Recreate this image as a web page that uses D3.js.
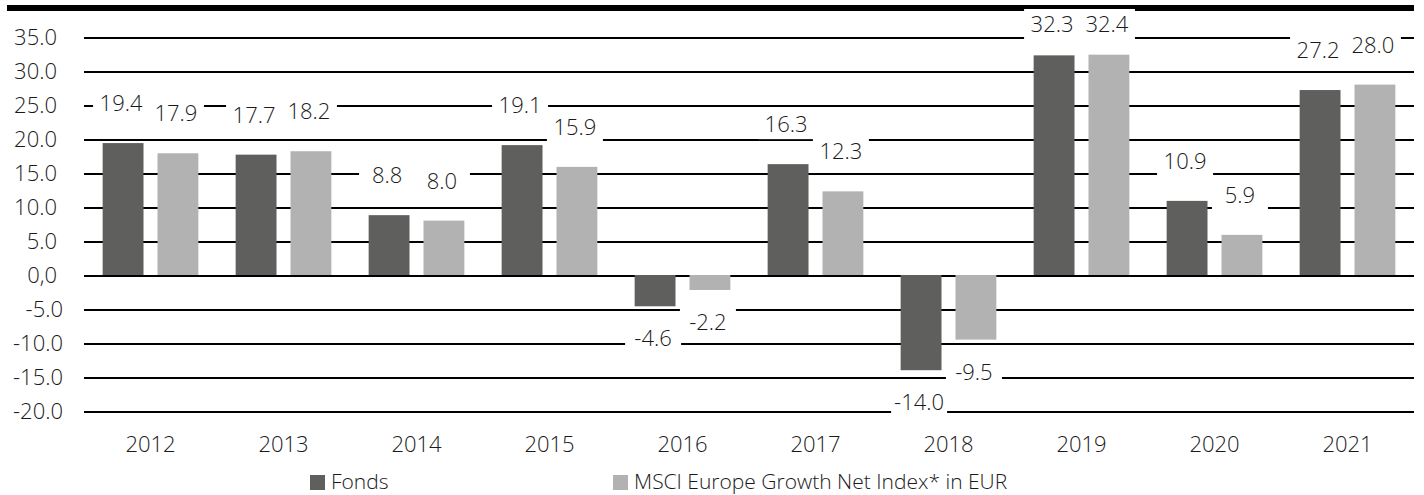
<!DOCTYPE html>
<html>
<head>
<meta charset="utf-8">
<title>Fonds vs MSCI Europe Growth</title>
<style>
body { margin: 0; background: #fff; }
svg { display: block; font-family: "Open Sans", sans-serif; font-weight: 300; }
.axis .domain { display: none; }
.axis line { stroke: #000; stroke-width: 2; shape-rendering: crispEdges; }
.axis text { font-family: "Open Sans", sans-serif; font-weight: 300; font-size: 22px; fill: #1a1a1a; }
</style>
</head>
<body>
<svg width="1424" height="495"></svg>
<script src="https://cdn.jsdelivr.net/npm/d3@7/dist/d3.min.js"></script>
<script>

var years = ["2012", "2013", "2014", "2015", "2016", "2017", "2018", "2019", "2020", "2021"];
var fonds = [19.4, 17.7, 8.8, 19.1, -4.6, 16.3, -14.0, 32.3, 10.9, 27.2];
var msci  = [17.9, 18.2, 8.0, 15.9, -2.2, 12.3, -9.5, 32.4, 5.9, 28.0];
var yTicks = [35, 30, 25, 20, 15, 10, 5, 0, -5, -10, -15, -20];
var yTickLabels = ["35.0", "30.0", "25.0", "20.0", "15.0", "10.0", "5.0", "0,0", "-5.0", "-10.0", "-15.0", "-20.0"];
var seriesNames = ["Fonds", "MSCI Europe Growth Net Index* in EUR"];
var colors = ["#5f5f5e", "#b2b2b2"];

var svg = d3.select("svg"),
    left = 84, right = 1414;

// thick rule on top
svg.append("rect")
    .attr("x", 7).attr("y", 5)
    .attr("width", right - 7).attr("height", 6)
    .attr("fill", "#000");

var x = d3.scaleBand().domain(years).range([left, right]);
var x1 = d3.scaleBand().domain([0, 1]).range([0, x.bandwidth()])
    .paddingInner(0.255).paddingOuter(0.34);
var y = d3.scaleLinear().domain([-20, 35]).range([411, 37]);

// y axis + gridlines
var yAxis = svg.append("g")
    .attr("class", "axis")
    .attr("transform", "translate(" + left + ",0)")
    .call(d3.axisLeft(y)
      .tickValues(yTicks)
      .tickSize(-(right - left))
      .tickPadding(27)
      .tickFormat(function(d, i) { return yTickLabels[i]; }))
    .attr("font-family", null)
    .attr("font-size", null);
yAxis.selectAll(".tick text")
    .attr("x", function(d) { return d < 0 ? -21 : -27; })
    .attr("dy", "0.34em");

// x labels
svg.append("g")
  .selectAll("text")
  .data(years)
  .enter().append("text")
    .attr("x", function(d) { return x(d) + x.bandwidth() / 2; })
    .attr("y", 444)
    .attr("dy", "0.36em")
    .attr("text-anchor", "middle")
    .attr("font-size", 22)
    .attr("fill", "#1a1a1a")
    .text(function(d) { return d; });

var rows = [];
years.forEach(function(yr, i) {
  rows.push({year: yr, s: 0, v: fonds[i]});
  rows.push({year: yr, s: 1, v: msci[i]});
});

// bars
svg.append("g")
  .selectAll("rect")
  .data(rows)
  .enter().append("rect")
    .attr("x", function(d) { return x(d.year) + x1(d.s); })
    .attr("y", function(d) { return y(Math.max(0, d.v)); })
    .attr("width", x1.bandwidth())
    .attr("height", function(d) { return Math.abs(y(d.v) - y(0)); })
    .attr("fill", function(d) { return colors[d.s]; });

// value labels with white boxes
var lab = svg.append("g")
  .selectAll("g")
  .data(rows)
  .enter().append("g")
    .attr("transform", function(d) {
      var cx = x(d.year) + x1(d.s) + x1.bandwidth() / 2 - 2;
      var cy = d.v >= 0 ? Math.max(y(d.v) - 40, 24) : y(d.v) + 32;
      return "translate(" + cx + "," + cy + ")";
    });

lab.append("rect")
    .attr("x", -28).attr("y", -15)
    .attr("width", 56).attr("height", 30)
    .attr("fill", "#fff");

lab.append("text")
    .attr("text-anchor", "middle")
    .attr("dy", "0.36em")
    .attr("font-size", 22)
    .attr("fill", "#1a1a1a")
    .text(function(d) { return d.v.toFixed(1); });

// legend
var legX = [310, 613];
var legend = svg.append("g")
  .selectAll("g")
  .data(seriesNames)
  .enter().append("g")
    .attr("transform", function(d, i) { return "translate(" + legX[i] + ",482)"; });

legend.append("rect")
    .attr("x", 0).attr("y", -7)
    .attr("width", 15).attr("height", 15)
    .attr("fill", function(d, i) { return colors[i]; });

legend.append("text")
    .attr("x", 21)
    .attr("dy", "0.34em")
    .attr("font-size", 21)
    .attr("fill", "#1a1a1a")
    .text(function(d) { return d; });

</script>
</body>
</html>
